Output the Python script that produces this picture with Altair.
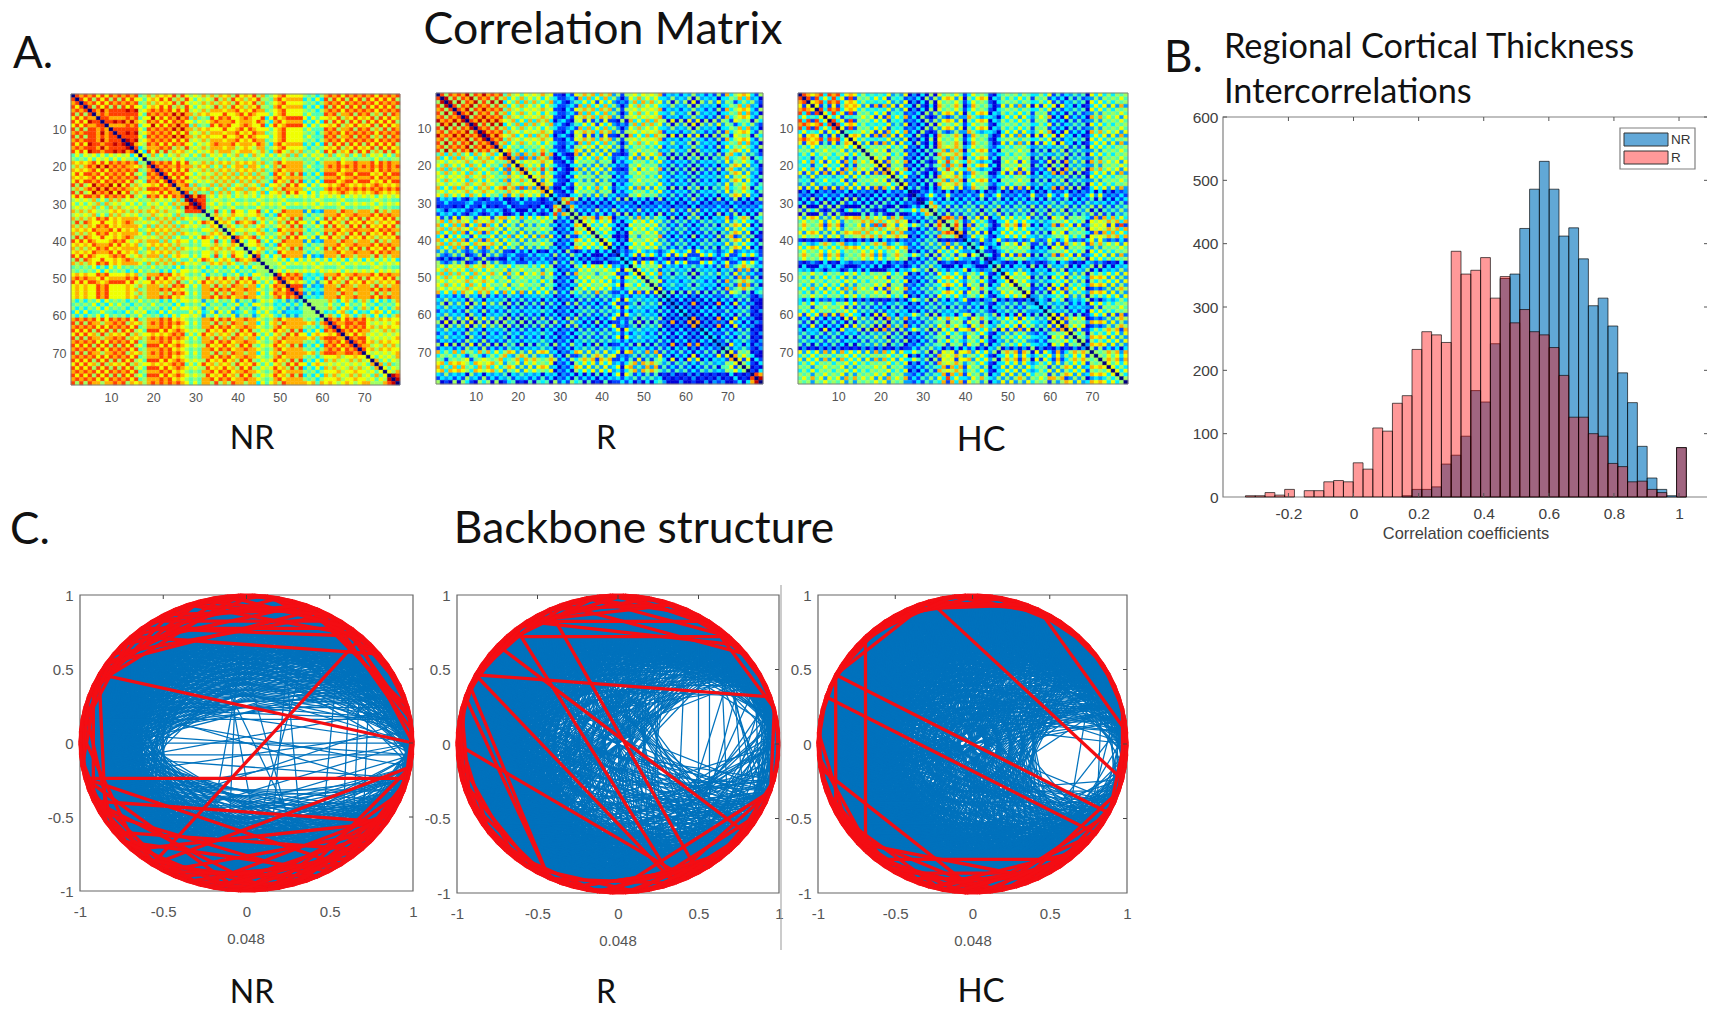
import math
import altair as alt
import pandas as pd

alt.data_transformers.disable_max_rows()

# ---------- values ----------
R_HIST = [2,2,7,3,12,0,10,10,24,26,24,54,44,109,104,148,160,233,261,256,244,388,352,358,378,314,348,275,296,261,256,236,192,126,126,100,96,53,48,24,25,12,7,0,78]
NR_HIST = [0,0,0,0,0,0,0,0,0,0,0,0,0,0,0,0,2,12,12,16,52,66,96,168,150,242,345,352,424,486,530,486,412,425,376,302,314,270,196,149,80,30,12,2,78]
BIN_START = -0.332
BIN_W = 0.0301
HIST_X_TICKS = [-0.2, 0, 0.2, 0.4, 0.6, 0.8, 1]
HIST_Y_TICKS = [0, 100, 200, 300, 400, 500, 600]
MAT_TICKS = [10, 20, 30, 40, 50, 60, 70]
NET_TICKS = [-1, -0.5, 0, 0.5, 1]

LEVEL_COLORS = ["#0000d8", "#0040ff", "#00a0ff", "#00f0ff", "#50ffb0", "#a0ff60", "#f0ff00", "#ffb000", "#ff4000", "#c00000"]
DIAG_COLOR = "#00007f"

NR_PHASE = "010103212303010121030101232101030121012301032101012303010121030123010301210103"
R_PHASE = "012101032103010123012101030121032301012101230301210103012101232101030123010103"
HC_PHASE = "010301210123030101212301030101232103010121030123010121030103212301012303010121"

NR_ROWS = [
 (1,4,"786857*16 4546*2 768576*10 56475*5 67586*13 4546*2 67867*7 45364*5 78685*18"),
 (5,14,"897887*16 4656*2 786879*10 56475*5 67786*13 4536*2 678678*7 45364*5 786857*18"),
 (15,16,"786567*16 4536*2 78576*10 56475*5 67756*13 4536*2 67865*7 35463*5 68576*18"),
 (17,18,"354657*78"),
 (19,27,"5*18 78687*10 56475*5 67574*13 4536*2 786758*7 45364*5 78678*18"),
 (28,31,"5*28 8978*4 456463*46"),
 (32,44,"5*33 657648*13 35463*3 786758*6 35462*5 786758*18"),
 (45,48,"5*48 456463*30"),
 (49,55,"5*48 78687*7 34352*5 786758*18"),
 (56,60,"5*60 453674*18"),
 (61,70,"5*60 78687*10 67565*8"),
 (71,75,"5*70 56475*8"),
 (76,78,"5*75 89*3"),
]
R_ROWS = [
 (1,14,"785978*16 564736*12 01132*5 573614*9 10252*4 564736*8 132506*15 673541*6 13250*3"),
 (15,16,"5768*16 453672*12 01132*5 462573*9 10252*4 354627*8 132506*15 463572*6 13250*3"),
 (17,28,"5*16 564728*12 01130*5 452637*9 12031*4 354627*8 231405*15 462573*6 13240*3"),
 (29,33,"5*28 8572*5 120315*45"),
 (34,42,"5*33 463571*9 02130*4 364527*8 241305*15 362571*6 13040*3"),
 (43,46,"5*42 102361*36"),
 (47,54,"5*46 453617*8 132405*15 572416*6 24130*3"),
 (55,69,"5*54 130207*15 241306*6 01020*3"),
 (70,75,"5*69 354617*6 01030*3"),
 (76,78,"5*75 7809*3"),
]
HC_ROWS = [
 (1,14,"783614*14 354627*3 243617*9 021305*2 03051*5 462571*6 0102*1 463572*5 01032*3 453627*7 1203*1 354617*4 241306*8 0102*1 354627*9"),
 (15,26,"5*14 354627*3 354617*9 120315*2 03041*5 574628*6 1203*1 463572*5 02130*3 354617*7 0102*1 241306*4 142507*8 0102*1 354627*9"),
 (27,28,"5*26 102351*2 021360*50"),
 (29,33,"5*28 50137*5 031425*45"),
 (34,39,"5*33 472581*6 0102*1 362517*5 01032*3 363571*7 1203*1 241306*4 354617*8 1203*1 573618*9"),
 (40,40,"5*40 021360*38"),
 (41,45,"5*40 132460*5 01023*3 354617*7 0102*1 231405*4 354617*8 1203*1 354627*9"),
 (46,48,"5*45 010325*33"),
 (49,55,"5*48 364527*7 0102*1 241306*4 253617*8 0102*1 362571*9"),
 (56,56,"5*56 010235*22"),
 (57,60,"5*56 231405*4 132406*8 0102*1 354617*9"),
 (61,68,"5*60 354617*8 0102*1 362571*9"),
 (69,69,"5*69 021305*9"),
 (70,78,"5*69 463572*9"),
]

# Blue network: limits by chord direction (26 sectors round the circle)
NR_DENSE = [1,1,.95,.85,.72,.6,.55,.52,.52,.55,.6,.62,.62,.62,.62,.6,.56,.52,.48,.48,.58,.72,.88,.96,1,1]
NR_HOLE = [.95,.88,.76,.62,.45,.28,.18,.18,.25,.32,.40,.46,.50,.50,.49,.45,.40,.34,.28,.28,.38,.54,.70,.83,.92,.96]
R_DENSE = [1,.96,.886,.795,.69,.586,.5,.44,.41,.39,.39,.4,.41,.42,.44,.45,.47,.495,.54,.6,.68,.78,.87,.94,1,1]
R_HOLE = [.905,.89,.83,.745,.63,.49,.35,.20,.07,-.05,-.15,-.23,-.286,-.31,-.30,-.26,-.20,-.11,.008,.15,.30,.45,.60,.72,.82,.88]
HC_DENSE = [1,.98,.89,.78,.65,.52,.43,.38,.37,.376,.4,.42,.44,.45,.46,.456,.45,.454,.476,.53,.62,.74,.85,.95,1,1]
HC_HOLE = [.96,.89,.77,.63,.46,.28,.1,-.06,-.2,-.3,-.37,-.42,-.43,-.405,-.35,-.26,-.155,-.02,.13,.3,.47,.64,.77,.89,.96,.985]
NR_THR, R_THR, HC_THR = 6, 4, 4

NR_SPARSE = [(39,0),(40,77),(44,0),(42,1),(38,77),(36,76),(46,2),(40,75),(41,3),(35,74),(47,0),(35,0),(20,57),(19,55),(16,60),(22,60),(17,63),(21,63),(14,58),(24,64),(11,66),(10,67),(9,68),(12,64),(37,2)]
R_SPARSE = [(12,66),(11,68),(10,70),(13,65),(9,62),(14,63),(4,60),(6,62),(3,58),(8,64),(2,56),(75,9),(73,12),(76,10),(72,11),(74,14),(5,66),(7,72)]
HC_SPARSE = [(3,72),(2,70),(5,74),(4,68),(1,71),(6,73),(77,4),(76,6),(75,5),(74,8),(0,66),(1,64),(7,70),(8,66),(2,60)]

# Red backbone: long chords as node pairs, rim chords as per-node spans
NR_RED = [(33,0),(51,10),(42,75),(42,66),(44,71),(51,76),(42,58),(51,63),(11,28),(28,10),(29,8),(32,14),(30,15),(27,12),(34,20),(31,13),(26,14),(24,10),(23,13),(12,2),(13,1),(11,0),(15,3),(14,2),(45,64),(44,60),(47,68),(49,71),(48,65),(53,66),(55,72),(58,72),(60,74),(62,73),(52,70),(56,70),(62,76),(66,75),(57,64),(54,62),(43,53),(36,47),(34,44),(38,50),(33,46)]
R_RED = [(33,4),(27,9),(27,12),(30,70),(28,63),(25,65),(33,63),(39,64),(34,53),(35,53),(44,53),(3,74),(74,62),(74,58),(12,3),(27,15),(22,10),(24,8),(20,12),(29,10),(66,73),(60,72),(62,70),(68,75),(55,66),(57,68),(40,50),(38,47),(36,44),(42,52)]
HC_RED = [(33,72),(35,70),(23,75),(14,1),(29,49),(33,45),(41,59),(70,62),(50,67),(23,33),(23,14),(25,15),(45,56),(47,60),(52,65),(55,68),(58,70),(60,72),(48,64),(44,52),(50,60),(62,74),(65,73),(56,66),(38,47),(40,50),(43,52),(72,1),(74,2),(75,3)]
NR_RIM = [3,4,3,5,3,6, 4,8,5,9,4,10,6, 11,5,12,4,12,6,13,5,12,6,11,4,10,5, 8,4,9,3,7,4,8,3,6,3,5,3, 4,6,3,7,4,8,3,9,5,10,4,11, 5,12,4,13,6,12,4,11,5,10,4,9,3,9,4,8, 4,7,3,6,3,5,3,5,3,4,3]
R_RIM = [3,3,3,4,3,5, 3,6,4,7,4,8,5, 9,4,10,5,10,4,9,5,9,4,8,5,8,4, 7,3,6,3,5,3,5,3,6,3,6,4, 5,3,6,3,5,3,6,3,7,4,8,4, 9,5,10,4,11,5,10,4,9,5,8,4,7,3,6,3, 5,3,4,3,4,3,3,3,3,3,3]
HC_RIM = [3,3,3,4,3,4, 3,5,4,6,3,7,4, 8,4,9,5,9,4,8,4,8,5,7,4,6,3, 6,3,5,3,4,3,4,3,4,3,4,3, 4,3,5,3,6,3,7,4,8,5,9,5, 10,5,11,4,11,5,10,5,9,4,8,4,7,3,6,3, 5,3,4,3,4,3,3,3,3,3,3]

# ---------- layout (page pixels) ----------
N = 78
W, H = 1699, 1002
HEAT = {"NR": (71, 94, 400, 385), "R": (436, 93, 763, 384), "HC": (798, 93, 1128, 384)}
NET = {"NR": (80, 595, 413, 891), "R": (457, 595, 779, 893), "HC": (818, 595, 1127, 893)}
HIST = (1223, 117, 1708, 497)
BIG = "Lato"
SANS = "Liberation Sans"
NARROW = "Liberation Sans Narrow, Liberation Sans"
GREY = "#555555"


def P(v):
    return v - 8


def text(s, x, y, size=38, align="left", font=BIG, color="#111111"):
    return alt.Chart(pd.DataFrame({"t": [s]})).mark_text(
        align=align, baseline="middle", fontSize=size, font=font, color=color
    ).encode(x=alt.value(P(x)), y=alt.value(P(y)), text="t:N")


def box(x0, y0, x1, y1, stroke="#808080", fill="#ffffff", fo=0.0, sw=1.0):
    return alt.Chart(pd.DataFrame({"a": [0]})).mark_rect(
        fill=fill, fillOpacity=fo, stroke=stroke, strokeWidth=sw
    ).encode(x=alt.value(P(x0)), x2=alt.value(P(x1)), y=alt.value(P(y0)), y2=alt.value(P(y1)))


def inner_ticks(values, scale, axis, fixed, inward, color="#444444"):
    df = pd.DataFrame({"v": values})
    if axis == "x":
        enc = dict(x=alt.X("v:Q", scale=scale, axis=None), y=alt.value(P(fixed)), y2=alt.value(P(fixed + inward)))
    else:
        enc = dict(y=alt.Y("v:Q", scale=scale, axis=None), x=alt.value(P(fixed)), x2=alt.value(P(fixed + inward)))
    return alt.Chart(df).mark_rule(color=color, strokeWidth=1).encode(**enc)


def build_matrix(spec, phase):
    ph = [int(ch) for ch in phase]
    m = [[5] * N for _ in range(N)]
    for r0, r1, tokens in spec:
        for r in range(r0, r1 + 1):
            c = 1
            for tok in tokens.split():
                pat, cnt = tok.split("*")
                for _ in range(int(cnt)):
                    if c <= N and c > r:
                        idx = ph[(r - 1) % len(ph)] + ph[(c - 1) % len(ph)]
                        v = int(pat[idx % len(pat)])
                        m[r - 1][c - 1] = v
                        m[c - 1][r - 1] = v
                    c += 1
    for i in range(N):
        m[i][i] = -1
    return m


def heat_layer(m, rect):
    x0, y0, x1, y1 = rect
    rows = []
    for r in range(N):
        for c in range(N):
            v = m[r][c]
            col = DIAG_COLOR if v < 0 else LEVEL_COLORS[v]
            rows.append({"x": c + 0.5, "x2": c + 1.5, "y": r + 0.5, "y2": r + 1.5, "col": col})
    sx = alt.Scale(domain=[0.5, N + 0.5], range=[P(x0), P(x1)], nice=False, zero=False)
    sy = alt.Scale(domain=[0.5, N + 0.5], range=[P(y0), P(y1)], nice=False, zero=False)
    return alt.Chart(pd.DataFrame(rows)).mark_rect(strokeWidth=0.4).encode(
        x=alt.X("x:Q", scale=sx, axis=alt.Axis(
            values=MAT_TICKS, orient="bottom", offset=P(y1) - H, grid=False, domain=False, ticks=False,
            labelFontSize=12.5, labelColor=GREY, labelFont=SANS, labelPadding=6, title=None, format="d")),
        x2="x2:Q",
        y=alt.Y("y:Q", scale=sy, axis=alt.Axis(
            values=MAT_TICKS, orient="left", offset=-P(x0), grid=False, domain=False, ticks=False,
            labelFontSize=12.5, labelColor=GREY, labelFont=SANS, labelPadding=5, title=None, format="d")),
        y2="y2:Q",
        fill=alt.Color("col:N", scale=None, legend=None),
        stroke=alt.Color("col:N", scale=None, legend=None),
    )


def node(i):
    a = 2 * math.pi * (i % N) / N
    return math.cos(a), math.sin(a)


def chord_row(i, j):
    a, b = node(i), node(j)
    return {"x": round(a[0], 4), "y": round(a[1], 4), "x2": round(b[0], 4), "y2": round(b[1], 4)}


def blue_edges(m, dense, hole, thr, sparse):
    rows = []
    for i in range(N):
        for j in range(i + 1, N):
            d = j - i
            s = i
            if d > N / 2:
                d = N - d
                s = j
            mid = ((s + d / 2) * 360 / N) % 360
            D = math.cos(math.radians(d * 360 / N / 2))
            sec = int(mid / (360 / 26)) % 26
            op = (sec + 13) % 26
            if D >= dense[sec] or D <= -dense[op]:
                rows.append(chord_row(i, j))
            elif (D >= hole[sec] or D <= -hole[op]) and m[i][j] >= thr:
                rows.append(chord_row(i, j))
    rows += [chord_row(a, b) for a, b in sparse]
    return rows


def red_edges(long_pairs, rim):
    rows = [chord_row(a, b) for a, b in long_pairs]
    for i, r in enumerate(rim):
        rows.append(chord_row(i, i + r))
        rows.append(chord_row(i, i + 2))
    return rows


NUM_EXPR = "'' + datum.value"


def net_layers(rect, blue, red):
    x0, y0, x1, y1 = rect
    sx = alt.Scale(domain=[-1, 1], range=[P(x0), P(x1)], nice=False, zero=False)
    sy = alt.Scale(domain=[-1, 1], range=[P(y1), P(y0)], nice=False, zero=False)
    xa = alt.Axis(values=NET_TICKS, orient="bottom", offset=P(y1) - H, grid=False, domain=False, ticks=False,
                  labelFontSize=15, labelColor=GREY, labelFont=NARROW, labelPadding=13, title=None,
                  labelExpr=NUM_EXPR, labelFlush=False, labelOverlap=False)
    ya = alt.Axis(values=NET_TICKS, orient="left", offset=-P(x0), grid=False, domain=False, ticks=False,
                  labelFontSize=15, labelColor=GREY, labelFont=NARROW, labelPadding=7, title=None,
                  labelExpr=NUM_EXPR, labelFlush=False, labelOverlap=False)
    out = [box(x0, y0, x1, y1, stroke="#666666", sw=1.2)]
    out.append(alt.Chart(pd.DataFrame(blue)).mark_rule(color="#0072BD", strokeWidth=1.25).encode(
        x=alt.X("x:Q", scale=sx, axis=xa), x2="x2:Q", y=alt.Y("y:Q", scale=sy, axis=ya), y2="y2:Q"))
    out.append(alt.Chart(pd.DataFrame(red)).mark_rule(color="#F40D13", strokeWidth=3.3).encode(
        x=alt.X("x:Q", scale=sx, axis=None), x2="x2:Q", y=alt.Y("y:Q", scale=sy, axis=None), y2="y2:Q"))
    out.append(inner_ticks(NET_TICKS[1:-1], sx, "x", y0, 4))
    out.append(inner_ticks(NET_TICKS[1:-1], sy, "y", x1, -4))
    return out


def hist_layers():
    x0, y0, x1, y1 = HIST
    sx = alt.Scale(domain=[-0.401, 1.089], range=[P(x0), P(x1)], nice=False, zero=False)
    sy = alt.Scale(domain=[0, 600], range=[P(y1), P(y0)], nice=False, zero=False)
    out = [box(x0, y0, x1, y1, stroke="#808080", sw=1.2)]

    def bars(vals, color, op, axes):
        df = pd.DataFrame({
            "a": [BIN_START + BIN_W * k for k, v in enumerate(vals) if v > 0],
            "b": [BIN_START + BIN_W * (k + 1) for k, v in enumerate(vals) if v > 0],
            "v": [v for v in vals if v > 0],
            "z": [0 for v in vals if v > 0],
        })
        xa = None
        ya = None
        if axes:
            xa = alt.Axis(values=HIST_X_TICKS, orient="bottom", offset=P(y1) - H, grid=False, domain=False,
                          ticks=False, labelFontSize=15.5, labelColor="#404040", labelFont=SANS, labelPadding=9,
                          title=None, labelExpr=NUM_EXPR)
            ya = alt.Axis(values=HIST_Y_TICKS, orient="left", offset=-P(x0), grid=False, domain=False,
                          ticks=False, labelFontSize=15.5, labelColor="#404040", labelFont=SANS, labelPadding=5,
                          title=None, format="d")
        return alt.Chart(df).mark_rect(
            color=color, fillOpacity=op, stroke="#000000", strokeOpacity=0.65, strokeWidth=1
        ).encode(x=alt.X("a:Q", scale=sx, axis=xa), x2="b:Q", y=alt.Y("v:Q", scale=sy, axis=ya), y2="z:Q")

    out.append(bars(NR_HIST, "#0072BD", 0.62, True))
    out.append(bars(R_HIST, "#FF0000", 0.4, False))
    out.append(inner_ticks(HIST_X_TICKS, sx, "x", y0, 4, "#555555"))
    out.append(inner_ticks(HIST_X_TICKS, sx, "x", y1, -4, "#555555"))
    out.append(inner_ticks(HIST_Y_TICKS[1:], sy, "y", x0, 4, "#555555"))
    out.append(inner_ticks(HIST_Y_TICKS[1:], sy, "y", x1, -4, "#555555"))
    # legend
    out.append(box(1620, 128, 1695, 169, stroke="#808080", fo=1, sw=1.2))
    out.append(box(1624, 133, 1668, 146, stroke="#333333", fill="#62A8D8", fo=1))
    out.append(box(1624, 151, 1668, 164, stroke="#333333", fill="#FF9999", fo=1))
    out.append(text("NR", 1671, 140, 13.5, font=SANS, color="#333333"))
    out.append(text("R", 1671, 158, 13.5, font=SANS, color="#333333"))
    out.append(text("Correlation coefficients", 1466, 534, 16.4, "center", SANS, "#404040"))
    return out


matrices = {"NR": build_matrix(NR_ROWS, NR_PHASE), "R": build_matrix(R_ROWS, R_PHASE), "HC": build_matrix(HC_ROWS, HC_PHASE)}
layers = []
for k in ["NR", "R", "HC"]:
    layers.append(heat_layer(matrices[k], HEAT[k]))
    x0, y0, x1, y1 = HEAT[k]
    layers.append(box(x0, y0, x1, y1))

layers += net_layers(NET["NR"], blue_edges(matrices["NR"], NR_DENSE, NR_HOLE, NR_THR, NR_SPARSE), red_edges(NR_RED, NR_RIM))
layers += net_layers(NET["R"], blue_edges(matrices["R"], R_DENSE, R_HOLE, R_THR, R_SPARSE), red_edges(R_RED, R_RIM))
layers += net_layers(NET["HC"], blue_edges(matrices["HC"], HC_DENSE, HC_HOLE, HC_THR, HC_SPARSE), red_edges(HC_RED, HC_RIM))
layers += hist_layers()

# separator beside the R network
layers.append(alt.Chart(pd.DataFrame({"a": [0]})).mark_rule(color="#999999", strokeWidth=1).encode(
    x=alt.value(P(781)), y=alt.value(P(585)), y2=alt.value(P(950))))

for s, x, y in [("0.048", 246, 939), ("0.048", 618, 941), ("0.048", 973, 941)]:
    layers.append(text(s, x, y, 15, "center", NARROW, GREY))

for s, x, y, sz, al in [
    ("Correlation Matrix", 603, 31, 44.6, "center"),
    ("A.", 13, 55, 44, "left"),
    ("NR", 252, 439, 32, "center"),
    ("R", 606, 439, 32, "center"),
    ("HC", 981, 441, 34, "center"),
    ("B.", 1164, 59, 44, "left"),
    ("Regional Cortical Thickness", 1224, 48, 34.3, "left"),
    ("Intercorrelations", 1224, 93, 34.3, "left"),
    ("C.", 10, 531, 44, "left"),
    ("Backbone structure", 644, 530, 44.4, "center"),
    ("NR", 252, 993, 32, "center"),
    ("R", 606, 993, 32, "center"),
    ("HC", 981, 992, 33, "center"),
]:
    layers.append(text(s, x, y, sz, al))

chart = alt.layer(*layers).resolve_scale(x="independent", y="independent").properties(
    width=W, height=H, padding=0, autosize=alt.AutoSizeParams(type="none")
).configure_view(stroke=None)

chart.save("out.html", embed_options={"renderer": "svg", "actions": False})
